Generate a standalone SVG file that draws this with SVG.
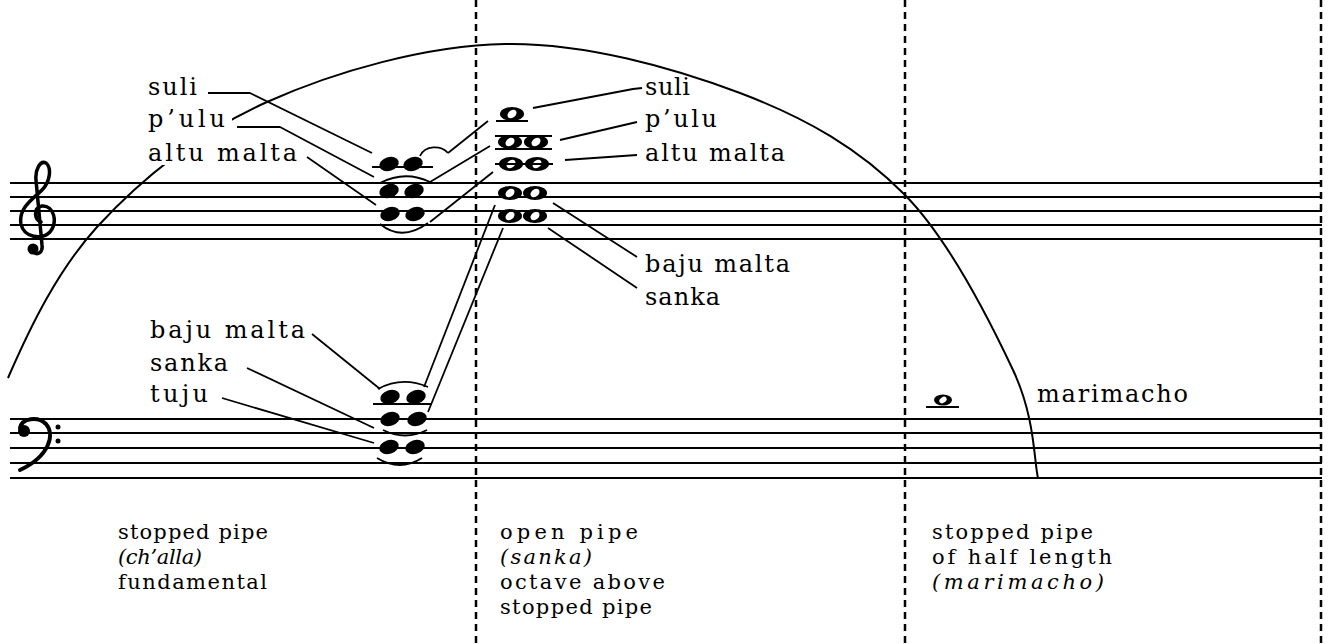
<svg xmlns="http://www.w3.org/2000/svg" width="1330" height="644" viewBox="0 0 1330 644">
<style>
.st{stroke:#000;stroke-width:2;fill:none}
.dash{stroke:#000;stroke-width:2.5;stroke-dasharray:7 5;fill:none}
.ln{stroke:#000;stroke-width:1.8;fill:none;stroke-linejoin:round}
.arc{stroke:#000;stroke-width:2;fill:none}
.t{font-family:"DejaVu Serif","Liberation Serif",serif;font-size:24px;fill:#000}
.c{font-size:21px}
.i{font-style:italic}
</style>
<defs>
<g id="wn"><ellipse rx="12" ry="7" fill="#000"/><ellipse rx="5" ry="3.6" transform="rotate(-40)" fill="#fff"/></g>
<ellipse id="bn" rx="10" ry="6.8" transform="rotate(-18)" fill="#000"/>
</defs>
<rect width="1330" height="644" fill="#fff"/>

<g id="staves">
<path class="st" d="M10 183H1322M10 197H1322M10 211H1322M10 225H1322M10 239H1322"/>
<path class="st" d="M10 419H1322M10 433H1322M10 448H1322M10 463H1322M10 478H1322"/>
</g>

<g id="barlines">
<path class="dash" d="M476 0V644M905 0V644M1321 0V644"/>
</g>

<g id="arc">
<path class="arc" d="M8 378C31 325 58 270 97 227C142 178 199 132.5 267 102C335 71.5 426.2 45.5 505 44C583.8 42.5 673.3 67.8 740 93C806.7 118.2 859.5 148.8 905 195C950.5 241.2 990.8 322.8 1013 370C1035.2 417.2 1033.8 460 1038 478"/>
<rect x="144" y="108" width="88" height="30" fill="#fff"/>
<rect x="144" y="138" width="158" height="27" fill="#fff"/>
</g>

<g id="clefs">
<path d="M41 222C34 220 33 208 42 206C54 205 58 222 50 232C42 240 24 238 21 224C18 208 34 198 42 190C50 182 52 168 46 163C40 160 35 170 36 180L42 245C43 252 38 256 33 252" fill="none" stroke="#000" stroke-width="3.5" stroke-linecap="round"/>
<circle cx="33" cy="249" r="5.5" fill="#000"/>
<path d="M20 428C22 418 38 416 46 424C55 434 50 456 20 470" fill="none" stroke="#000" stroke-width="4" stroke-linecap="round"/>
<circle cx="24" cy="431" r="6" fill="#000"/>
<circle cx="58" cy="427" r="2.5" fill="#000"/>
<circle cx="58" cy="441" r="2.5" fill="#000"/>
</g>

<g id="challa-treble">
<path class="st" d="M372 167H433"/>
<use href="#bn" x="389" y="164"/><use href="#bn" x="413" y="164"/>
<use href="#bn" x="389" y="191"/><use href="#bn" x="414" y="191"/>
<use href="#bn" x="390" y="214"/><use href="#bn" x="415" y="214"/>
<path class="ln" d="M420 156C425 145 441 145 448 153"/>
<path class="ln" d="M380 183Q405 170 430 182"/>
<path class="ln" d="M380 224Q402 242 428 223"/>
</g>

<g id="sanka-treble">
<path class="st" d="M496 121H528M495 136H552M495 149H552M495 164H553"/>
<use href="#wn" x="512" y="114"/>
<use href="#wn" x="510" y="142"/><use href="#wn" x="536" y="142"/>
<use href="#wn" x="511" y="164"/><use href="#wn" x="537" y="164"/>
<use href="#wn" x="510" y="193"/><use href="#wn" x="535" y="193"/>
<use href="#wn" x="510" y="216"/><use href="#wn" x="535" y="216"/>
<path class="st" d="M495 164H553M495 211H553"/>
</g>

<g id="challa-bass">
<path class="st" d="M373 404H432"/>
<use href="#bn" x="390" y="397"/><use href="#bn" x="416" y="397"/>
<use href="#bn" x="390" y="419"/><use href="#bn" x="417" y="419"/>
<use href="#bn" x="389" y="447"/><use href="#bn" x="415" y="447"/>
<path class="ln" d="M378 389Q402 376 428 387"/>
<path class="ln" d="M383 430Q405 441 427 430"/>
<path class="ln" d="M377 458Q400 472 422 458"/>
</g>

<g id="marimacho-note">
<path class="st" d="M926 407H959"/>
<ellipse cx="943" cy="400" rx="9" ry="5.5" fill="#000"/>
<ellipse cx="943" cy="400" rx="4" ry="2.8" transform="rotate(-35 943 400)" fill="#fff"/>
</g>

<g id="connectors">
<path class="ln" d="M208 93L250 93L372 153"/>
<path class="ln" d="M237 127L280 127L374 177"/>
<path class="ln" d="M307 157L376 205"/>
<path class="ln" d="M533 108L633 89L642 88"/>
<path class="ln" d="M560 140L637 122"/>
<path class="ln" d="M565 160L637 155"/>
<path class="ln" d="M553 203L637 257"/>
<path class="ln" d="M548 228L637 288"/>
<path class="ln" d="M312 334L380 389"/>
<path class="ln" d="M247 368L374 428"/>
<path class="ln" d="M222 398L374 443"/>
<path class="ln" d="M430 222L493 172"/>
<path class="ln" d="M430 182L490 146"/>
<path class="ln" d="M448 153L488 121"/>
<path class="ln" d="M424 387L495 205"/>
<path class="ln" d="M428 412L503 228"/>
</g>

<g id="labels">
<text class="t" x="148" y="95" textLength="49">suli</text>
<text class="t" x="148" y="127" textLength="77">p’ulu</text>
<text class="t" x="148" y="161" textLength="149">altu malta</text>
<text class="t" x="645" y="95" textLength="45">suli</text>
<text class="t" x="645" y="127" textLength="72">p’ulu</text>
<text class="t" x="645" y="161" textLength="140">altu malta</text>
<text class="t" x="645" y="272" textLength="145">baju malta</text>
<text class="t" x="645" y="305" textLength="75">sanka</text>
<text class="t" x="150" y="338" textLength="155">baju malta</text>
<text class="t" x="150" y="371" textLength="78">sanka</text>
<text class="t" x="150" y="402" textLength="58">tuju</text>
<text class="t" x="1037" y="402" textLength="151">marimacho</text>
</g>

<g id="captions">
<text class="t c" id="cap-challa"><tspan x="118" y="539" textLength="150">stopped pipe</tspan><tspan class="i" x="118" y="564" textLength="84">(ch’alla)</tspan><tspan x="118" y="589" textLength="149">fundamental</tspan></text>
<text class="t c" id="cap-sanka"><tspan x="500" y="539" textLength="138">open pipe</tspan><tspan class="i" x="500" y="564" textLength="92">(sanka)</tspan><tspan x="500" y="589" textLength="165">octave above</tspan><tspan x="500" y="614" textLength="152">stopped pipe</tspan></text>
<text class="t c" id="cap-marimacho"><tspan x="932" y="539" textLength="161">stopped pipe</tspan><tspan x="932" y="564" textLength="180">of half length</tspan><tspan class="i" x="932" y="589" textLength="172">(marimacho)</tspan></text>
</g>
</svg>
